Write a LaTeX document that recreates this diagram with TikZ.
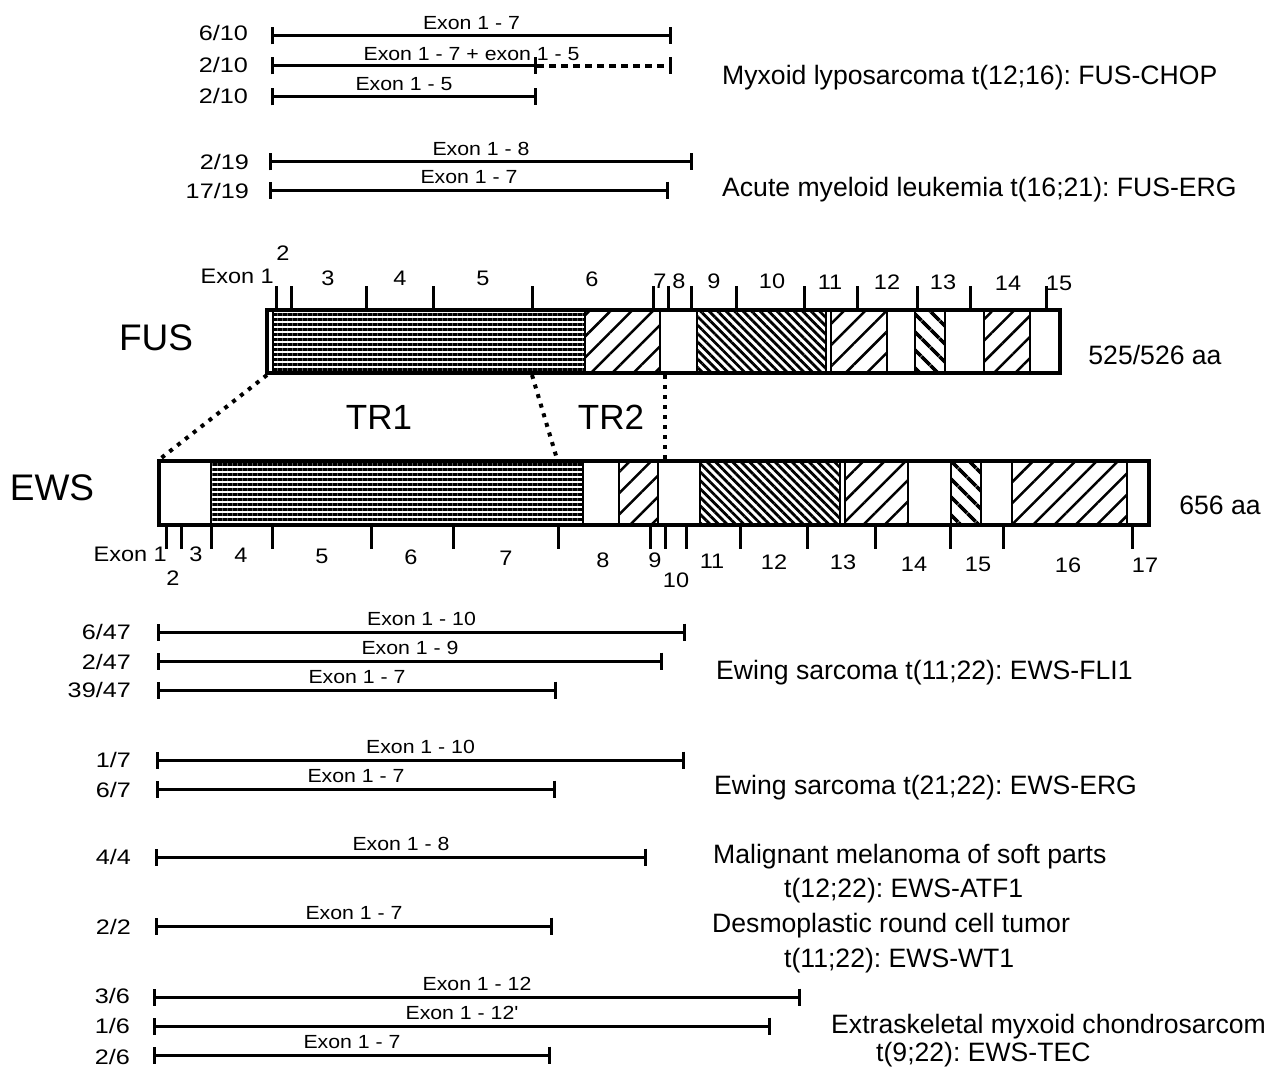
\documentclass[tikz,border=0pt]{standalone}
\usepackage{fontspec}
\setmainfont{Liberation Sans}
\newfontfamily\exfont[FakeStretch=1.12]{Liberation Sans}
\newfontfamily\fracfont[FakeStretch=1.2]{Liberation Sans}
\usetikzlibrary{patterns.meta,arrows.meta}
\frenchspacing
\tikzset{
  fusline/.style={line width=3pt, {Bar[width=17pt]}-{Bar[width=17pt]}},
  fusdot/.style={line width=3.5pt, dash pattern=on 7pt off 5pt, -{Bar[width=17pt,line width=3pt]}},
  linkdot/.style={line width=4pt, dash pattern=on 4pt off 6pt},
  wseg/.style={draw, line width=2.5pt, fill=white},
  hseg/.style={draw, line width=2.5pt, pattern={Lines[angle=0,distance=5pt,line width=3pt]}},
  neseg/.style={draw, line width=2.5pt, pattern={Lines[angle=45,distance=15pt,line width=2.5pt]}},
  nwdseg/.style={draw, line width=2.5pt, pattern={Lines[angle=-45,distance=6pt,line width=2.8pt]}},
  nwcseg/.style={draw, line width=2.5pt, pattern={Lines[angle=-45,distance=13pt,line width=4pt]}},
  outline/.style={draw, line width=3.5pt},
  exontick/.style={line width=3pt},
  lab/.style={font=\fontsize{26.6}{30}\selectfont, anchor=west, inner sep=0pt},
  frac/.style={font=\fracfont\fontsize{21}{24}\selectfont, anchor=east, inner sep=0pt},
  exl/.style={font=\exfont\fontsize{19}{22}\selectfont, inner sep=0pt, midway, above, yshift=5pt},
  num/.style={font=\exfont\fontsize{21}{24}\selectfont, inner sep=0pt},
  big/.style={font=\fontsize{37}{40}\selectfont, inner sep=0pt},
}
\begin{document}
\begin{tikzpicture}[x=1pt,y=-1pt]
\fill[white] (0,0) rectangle (1264,1070);
\useasboundingbox (0,0) rectangle (1264,1070);

% ---------------- FUS fusions ----------------
\coordinate (a1) at (271,36); \coordinate (a2) at (672,36);
\coordinate (b1) at (271,66); \coordinate (b2) at (537,66); \coordinate (b3) at (672,66);
\coordinate (c1) at (271,97); \coordinate (c2) at (537,97);
\coordinate (d1) at (269,162); \coordinate (d2) at (693,162);
\coordinate (e1) at (269,190); \coordinate (e2) at (669,190);

\draw[fusline] (a1) -- (a2) node[exl, name=ta] {Exon 1 - 7};
\draw[fusline] (b1) -- (b2);
\draw[fusdot] (b2) -- (b3);
\path (b1) -- (b3) node[exl, name=tb] {Exon 1 - 7 + exon 1 - 5};
\draw[fusline] (c1) -- (c2) node[exl, name=tc] {Exon 1 - 5};
\draw[fusline] (d1) -- (d2) node[exl, name=td] {Exon 1 - 8};
\draw[fusline] (e1) -- (e2) node[exl, name=te] {Exon 1 - 7};

\node[frac] (fa) at (248,33) {6/10};
\node[frac] (fb) at (248,65) {2/10};
\node[frac] (fc) at (248,96) {2/10};
\node[frac] (fd) at (249,162) {2/19};
\node[frac] (fe) at (249,191) {17/19};

\node[lab] (dmyx) at (722,78) {Myxoid lyposarcoma t(12;16): FUS-CHOP};
\node[lab] (daml) at (722,190) {Acute myeloid leukemia t(16;21): FUS-ERG};

% ---------------- FUS bar ----------------
\draw[wseg] (267,310) rectangle (273,373);
\draw[hseg] (273,310) rectangle (585,373);
\draw[neseg] (585,310) rectangle (660,373);
\draw[wseg] (660,310) rectangle (697,373);
\draw[nwdseg] (697,310) rectangle (826,373);
\draw[wseg] (826,310) rectangle (831,373);
\draw[neseg] (831,310) rectangle (887,373);
\draw[wseg] (887,310) rectangle (915,373);
\draw[nwcseg] (915,310) rectangle (945,373);
\draw[wseg] (945,310) rectangle (984,373);
\draw[neseg] (984,310) rectangle (1030,373);
\draw[wseg] (1030,310) rectangle (1060,373);
\draw[outline] (267,310) rectangle (1060,373);
\foreach \x in {276,291,366,433,532,653,668,691,736,804,857,917,970,1046}
  \draw[exontick] (\x,310) -- (\x,286);

\node[num, anchor=east] (fx1) at (274,276) {Exon 1};
\node[num] (fx2) at (283,253) {2};
\node[num] (fx3) at (328,278) {3};
\node[num] (fx4) at (400,278) {4};
\node[num] (fx5) at (483,278) {5};
\node[num] (fx6) at (592,279) {6};
\node[num] (fx7) at (660,281) {7};
\node[num] (fx8) at (679,281) {8};
\node[num] (fx9) at (714,281) {9};
\node[num] (fx10) at (772,281) {10};
\node[num] (fx11) at (830,282) {11};
\node[num] (fx12) at (887,282) {12};
\node[num] (fx13) at (943,282) {13};
\node[num] (fx14) at (1008,283) {14};
\node[num] (fx15) at (1059,283) {15};

\node[big] (fus) at (156,338) {FUS};
\node[lab, anchor=center] (faa) at (1155,355) {525/526 aa};

% ---------------- links ----------------
\coordinate (l1) at (267,375); \coordinate (m1) at (160,459);
\coordinate (l2) at (532,375); \coordinate (m2) at (557,459);
\coordinate (l3) at (665,375); \coordinate (m3) at (665,459);
\draw[linkdot] (l1) -- (m1);
\draw[linkdot] (l2) -- (m2);
\draw[linkdot] (l3) -- (m3);
\node[big, font=\fontsize{35}{38}\selectfont] (tr1) at (379,417) {TR1};
\node[big, font=\fontsize{35}{38}\selectfont] (tr2) at (611,417) {TR2};

% ---------------- EWS bar ----------------
\draw[wseg] (159,461) rectangle (211,525);
\draw[hseg] (211,461) rectangle (583,525);
\draw[wseg] (583,461) rectangle (619,525);
\draw[neseg] (619,461) rectangle (658,525);
\draw[wseg] (658,461) rectangle (700,525);
\draw[nwdseg] (700,461) rectangle (840,525);
\draw[wseg] (840,461) rectangle (845,525);
\draw[neseg] (845,461) rectangle (908,525);
\draw[wseg] (908,461) rectangle (951,525);
\draw[nwcseg] (951,461) rectangle (981,525);
\draw[wseg] (981,461) rectangle (1012,525);
\draw[neseg] (1012,461) rectangle (1127,525);
\draw[wseg] (1127,461) rectangle (1149,525);
\draw[outline] (159,461) rectangle (1149,525);
\foreach \x in {166,181,211,272,371,453,558,650,665,686,740,807,875,950,1003,1132}
  \draw[exontick] (\x,525) -- (\x,549);

\node[num, anchor=east] (ex1) at (167,554) {Exon 1};
\node[num] (ex2) at (173,578) {2};
\node[num] (ex3) at (196,554) {3};
\node[num] (ex4) at (241,555) {4};
\node[num] (ex5) at (322,556) {5};
\node[num] (ex6) at (411,557) {6};
\node[num] (ex7) at (506,558) {7};
\node[num] (ex8) at (603,560) {8};
\node[num] (ex9) at (655,560) {9};
\node[num] (ex10) at (676,580) {10};
\node[num] (ex11) at (712,561) {11};
\node[num] (ex12) at (774,562) {12};
\node[num] (ex13) at (843,562) {13};
\node[num] (ex14) at (914,564) {14};
\node[num] (ex15) at (978,564) {15};
\node[num] (ex16) at (1068,565) {16};
\node[num] (ex17) at (1145,565) {17};

\node[big] (ews) at (52,488) {EWS};
\node[lab, anchor=center] (eaa) at (1220,505) {656 aa};

% ---------------- EWS fusions ----------------
\coordinate (f1) at (157,632); \coordinate (f2) at (686,632);
\coordinate (g1) at (157,661); \coordinate (g2) at (663,661);
\coordinate (h1) at (157,690); \coordinate (h2) at (557,690);
\coordinate (i1) at (156,760); \coordinate (i2) at (685,760);
\coordinate (j1) at (156,789); \coordinate (j2) at (556,789);
\coordinate (k1) at (155,857); \coordinate (k2) at (647,857);
\coordinate (p1) at (155,926); \coordinate (p2) at (553,926);
\coordinate (q1) at (153,997); \coordinate (q2) at (801,997);
\coordinate (r1) at (153,1026); \coordinate (r2) at (771,1026);
\coordinate (s1) at (153,1055); \coordinate (s2) at (551,1055);

\draw[fusline] (f1) -- (f2) node[exl, name=tf] {Exon 1 - 10};
\draw[fusline] (g1) -- (g2) node[exl, name=tg] {Exon 1 - 9};
\draw[fusline] (h1) -- (h2) node[exl, name=th] {Exon 1 - 7};
\draw[fusline] (i1) -- (i2) node[exl, name=ti] {Exon 1 - 10};
\draw[fusline] (j1) -- (j2) node[exl, name=tj] {Exon 1 - 7};
\draw[fusline] (k1) -- (k2) node[exl, name=tk] {Exon 1 - 8};
\draw[fusline] (p1) -- (p2) node[exl, name=tp] {Exon 1 - 7};
\draw[fusline] (q1) -- (q2) node[exl, name=tq] {Exon 1 - 12};
\draw[fusline] (r1) -- (r2) node[exl, name=tr] {Exon 1 - 12'};
\draw[fusline] (s1) -- (s2) node[exl, name=ts] {Exon 1 - 7};

\node[frac] (ff) at (131,632) {6/47};
\node[frac] (fg) at (131,662) {2/47};
\node[frac] (fh) at (131,690) {39/47};
\node[frac] (fi) at (131,760) {1/7};
\node[frac] (fj) at (131,790) {6/7};
\node[frac] (fk) at (131,857) {4/4};
\node[frac] (fp) at (131,927) {2/2};
\node[frac] (fq) at (130,996) {3/6};
\node[frac] (fr) at (130,1026) {1/6};
\node[frac] (fs) at (130,1057) {2/6};

\node[lab] (dfli) at (716,673) {Ewing sarcoma t(11;22): EWS-FLI1};
\node[lab] (derg) at (714,788) {Ewing sarcoma t(21;22): EWS-ERG};
\node[lab] (dmm) at (713,857) {Malignant melanoma of soft parts};
\node[lab] (dmm2) at (784,891) {t(12;22): EWS-ATF1};
\node[lab] (dds) at (712,926) {Desmoplastic round cell tumor};
\node[lab] (dds2) at (784,961) {t(11;22): EWS-WT1};
\node[lab] (dex) at (831,1027) {Extraskeletal myxoid chondrosarcom};
\node[lab] (dex2) at (876,1055) {t(9;22): EWS-TEC};
\end{tikzpicture}
\end{document}
